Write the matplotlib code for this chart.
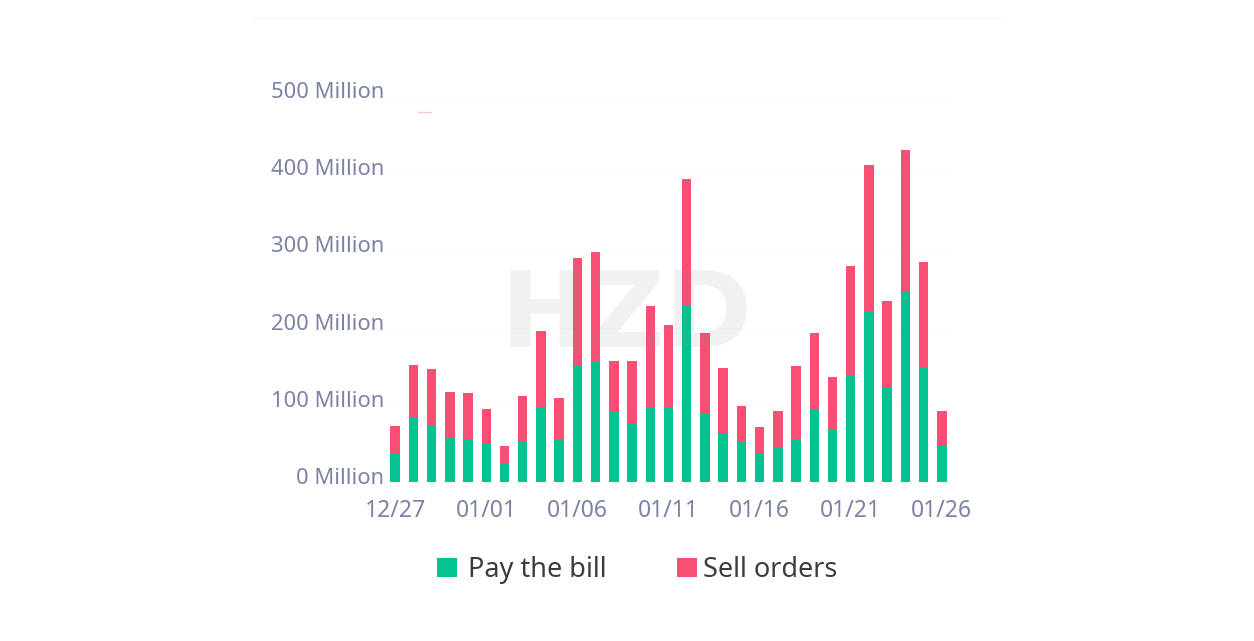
import matplotlib
matplotlib.use('Agg')
import matplotlib.pyplot as plt
from matplotlib.lines import Line2D
from matplotlib.transforms import ScaledTranslation

W, H = 1254, 641

plt.rcParams['font.family'] = ['Noto Sans', 'DejaVu Sans']

# values in millions
dates = ['12/27', '12/28', '12/29', '12/30', '12/31', '01/01', '01/02', '01/03',
         '01/04', '01/05', '01/06', '01/07', '01/08', '01/09', '01/10', '01/11',
         '01/12', '01/13', '01/14', '01/15', '01/16', '01/17', '01/18', '01/19',
         '01/20', '01/21', '01/22', '01/23', '01/24', '01/25', '01/26']
pay_bill = [37, 84, 73, 57, 56, 49, 24, 53, 96, 54, 150, 156, 92, 75, 96, 96,
            229, 88, 63, 52, 36, 44, 54, 94, 67, 137, 222, 123, 248, 148, 48]
sell_orders = [36, 67, 74, 60, 59, 45, 23, 58, 99, 55, 140, 142, 65, 82, 132, 107,
               164, 105, 85, 46, 35, 48, 96, 99, 69, 143, 188, 111, 182, 137, 44]
y_ticks = [0, 100, 200, 300, 400, 500]
y_labels = ['0 Million', '100 Million', '200 Million', '300 Million', '400 Million', '500 Million']

GREEN = '#04c391'
RED = '#f94f75'
LABEL = '#7c82a3'

fig = plt.figure(figsize=(W / 100, H / 100), dpi=100)
ax = fig.add_axes([386 / W, 1 - 482 / H, 565 / W, 386 / H])

x = list(range(len(dates)))
b1 = ax.bar(x, pay_bill, width=0.52, color=GREEN, label='Pay the bill', zorder=2)
b2 = ax.bar(x, sell_orders, width=0.52, bottom=pay_bill, color=RED, label='Sell orders', zorder=2)

ax.set_xlim(-0.5, 30.5)
ax.set_ylim(0, 500)
ax.set_yticks(y_ticks)
ax.set_yticklabels(y_labels)
ax.set_xticks(x[::5])
ax.set_xticklabels(dates[::5])
ax.tick_params(axis='both', length=0, labelcolor=LABEL)
ax.tick_params(axis='y', pad=1.3, labelsize=15.8)
ax.tick_params(axis='x', pad=12, labelsize=16.5)
ax.grid(axis='y', color='#fafafb', linewidth=1, zorder=0)
for s in ax.spines.values():
    s.set_visible(False)

# y labels sit a bit above their gridlines
up = ScaledTranslation(0, 6 / 100, fig.dpi_scale_trans)
for t in ax.get_yticklabels():
    t.set_transform(t.get_transform() + up)

# faint watermark over the bars
fig.text(627 / W, 1 - 318 / H, 'HZD', fontsize=76, fontweight='bold', family='DejaVu Sans',
         color='#8c8c8c', alpha=0.12, ha='center', va='center', zorder=5)

# thin frame line at the top of the card, leftover tick of the erased title
fig.add_artist(Line2D([252 / W, 1000 / W], [1 - 17.5 / H, 1 - 17.5 / H], color='#f6f6f6', linewidth=1))
fig.add_artist(Line2D([418 / W, 431 / W], [1 - 112 / H, 1 - 112 / H], color='#fbc4d0', linewidth=1))

# two legends so each entry lands where it does in the original
leg1 = fig.legend(handles=[b1], loc='center left', bbox_to_anchor=(437 / W, 1 - 570 / H),
                  frameon=False, fontsize=19.5, labelcolor='#3c3c3c', handlelength=0.74,
                  handleheight=0.74, handletextpad=0.42, borderpad=0, borderaxespad=0)
leg2 = fig.legend(handles=[b2], loc='center left', bbox_to_anchor=(677 / W, 1 - 570 / H),
                  frameon=False, fontsize=19.5, labelcolor='#3c3c3c', handlelength=0.74,
                  handleheight=0.74, handletextpad=0.22, borderpad=0, borderaxespad=0)

fig.savefig('out.png', dpi=100)
